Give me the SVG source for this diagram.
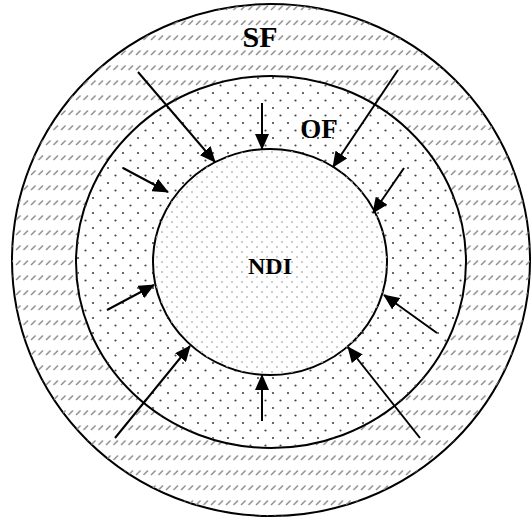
<svg xmlns="http://www.w3.org/2000/svg" width="531" height="521" viewBox="0 0 531 521">
<style>
.ring{stroke:#000;stroke-width:2}
.arr{stroke:#000;stroke-width:2;fill:none;marker-end:url(#ah)}
.lbl{font-family:"Liberation Serif",serif;font-weight:bold;fill:#000}
</style>
<defs>
<pattern id="hatch" width="7.5" height="15" patternUnits="userSpaceOnUse">
<line x1="1" y1="10" x2="5.5" y2="5.5" stroke="#888" stroke-width="1.4"/>
</pattern>
<pattern id="dots" width="15" height="15" patternUnits="userSpaceOnUse">
<circle cx="3" cy="3" r="1.1" fill="#444"/>
<circle cx="10.5" cy="10.5" r="1.1" fill="#444"/>
</pattern>
<pattern id="fdots" width="10" height="10" patternUnits="userSpaceOnUse">
<circle cx="2" cy="2" r="1" fill="#bbb"/>
<circle cx="7" cy="7" r="1" fill="#bbb"/>
</pattern>
<marker id="ah" markerWidth="16" markerHeight="14" refX="15" refY="7" orient="auto" markerUnits="userSpaceOnUse">
<path d="M0,0 L16,7 L0,14 Z" fill="#000"/>
</marker>
</defs>
<g id="SF">
<ellipse cx="271" cy="260" rx="259" ry="256" fill="#fff" class="ring"/>
<ellipse cx="271" cy="260" rx="259" ry="256" fill="url(#hatch)" stroke="none"/>
<text class="lbl" x="260" y="47" font-size="30" text-anchor="middle">SF</text>
</g>
<g id="OF">
<ellipse cx="271" cy="262" rx="195" ry="186" fill="#fff" class="ring"/>
<ellipse cx="271" cy="262" rx="195" ry="186" fill="url(#dots)" stroke="none"/>
<text class="lbl" x="319" y="138" font-size="27" text-anchor="middle">OF</text>
</g>
<g id="NDI">
<ellipse cx="270" cy="262" rx="117" ry="113" fill="#fff" class="ring"/>
<ellipse cx="270" cy="262" rx="117" ry="113" fill="url(#fdots)" stroke="none"/>
<text class="lbl" x="270" y="274" font-size="24" text-anchor="middle">NDI</text>
</g>
<g id="connectors">
<line class="arr" x1="138" y1="72" x2="215" y2="162"/>
<line class="arr" x1="262" y1="103" x2="262" y2="149"/>
<line class="arr" x1="398" y1="70" x2="333" y2="167"/>
<line class="arr" x1="123" y1="168" x2="168" y2="192"/>
<line class="arr" x1="404" y1="168" x2="373" y2="213"/>
<line class="arr" x1="107" y1="310" x2="154" y2="285"/>
<line class="arr" x1="437" y1="333" x2="384" y2="295"/>
<line class="arr" x1="115" y1="438" x2="190" y2="346"/>
<line class="arr" x1="262" y1="421" x2="262" y2="375"/>
<line class="arr" x1="420" y1="438" x2="348" y2="347"/>
</g>
</svg>
